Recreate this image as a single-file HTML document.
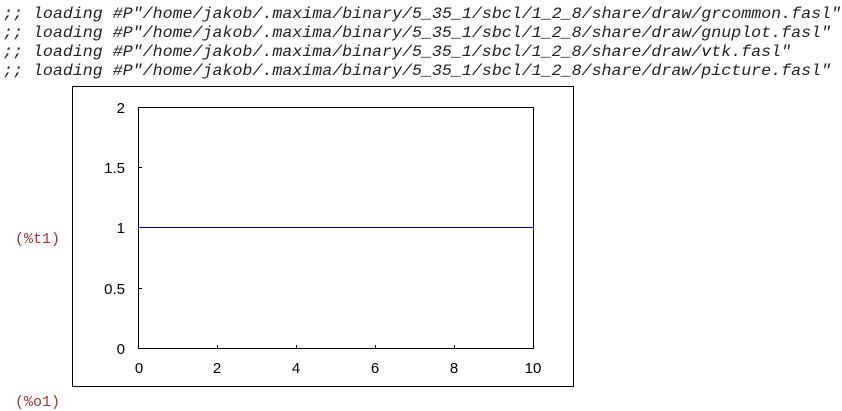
<!DOCTYPE html>
<html><head><style>html,body{margin:0;padding:0;background:#fff;width:842px;height:411px;overflow:hidden}</style></head>
<body>
<svg width="842" height="411" xmlns="http://www.w3.org/2000/svg">
<g font-family="Liberation Mono, monospace" font-style="italic" font-size="16" fill="#222">
<text x="3" y="18" textLength="838" lengthAdjust="spacingAndGlyphs">;; loading #P"/home/jakob/.maxima/binary/5_35_1/sbcl/1_2_8/share/draw/grcommon.fasl"</text>
<text x="3" y="37" textLength="828" lengthAdjust="spacingAndGlyphs">;; loading #P"/home/jakob/.maxima/binary/5_35_1/sbcl/1_2_8/share/draw/gnuplot.fasl"</text>
<text x="3" y="56" textLength="788" lengthAdjust="spacingAndGlyphs">;; loading #P"/home/jakob/.maxima/binary/5_35_1/sbcl/1_2_8/share/draw/vtk.fasl"</text>
<text x="3" y="75" textLength="828" lengthAdjust="spacingAndGlyphs">;; loading #P"/home/jakob/.maxima/binary/5_35_1/sbcl/1_2_8/share/draw/picture.fasl"</text>
</g>
<g font-family="Liberation Mono, monospace" font-size="15" fill="#b03030">
<text x="15" y="243" textLength="45" lengthAdjust="spacingAndGlyphs">(%t1)</text>
<text x="15" y="406" textLength="45" lengthAdjust="spacingAndGlyphs">(%o1)</text>
</g>
<rect x="72.5" y="86.5" width="501" height="300" fill="none" stroke="#000" stroke-width="1"/>
<rect x="138.5" y="107.5" width="395" height="241" fill="none" stroke="#000" stroke-width="1"/>
<line x1="138.5" y1="227.5" x2="533" y2="227.5" stroke="#0000cc" stroke-width="1"/>
<g stroke="#000" stroke-width="1">
<line x1="139" y1="167.5" x2="142" y2="167.5"/>
<line x1="139" y1="288.5" x2="142" y2="288.5"/>
<line x1="217.5" y1="348" x2="217.5" y2="345"/>
<line x1="296.5" y1="348" x2="296.5" y2="345"/>
<line x1="375.5" y1="348" x2="375.5" y2="345"/>
<line x1="454.5" y1="348" x2="454.5" y2="345"/>
</g>
<g font-family="Liberation Sans, sans-serif" font-size="15" fill="#000" text-anchor="end">
<text x="125" y="113">2</text>
<text x="125" y="173">1.5</text>
<text x="125" y="233">1</text>
<text x="125" y="294">0.5</text>
<text x="125" y="354">0</text>
</g>
<g font-family="Liberation Sans, sans-serif" font-size="15" fill="#000" text-anchor="middle">
<text x="139" y="373">0</text>
<text x="217" y="373">2</text>
<text x="296" y="373">4</text>
<text x="375" y="373">6</text>
<text x="454" y="373">8</text>
<text x="533" y="373">10</text>
</g>
</svg>
</body></html>
